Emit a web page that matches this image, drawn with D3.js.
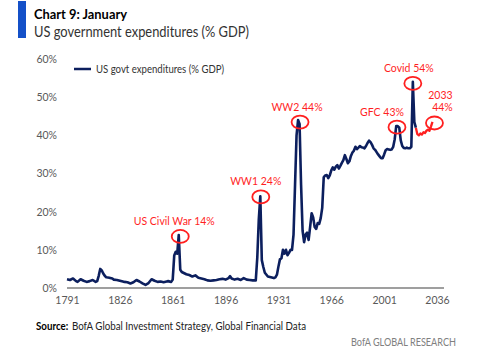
<!DOCTYPE html>
<html>
<head>
<meta charset="utf-8">
<script src="https://cdn.jsdelivr.net/npm/d3@7/dist/d3.min.js"></script>
<style>
  html, body { margin: 0; padding: 0; background: #fff; }
  svg { display: block; font-family: Lato, "Open Sans", sans-serif; }
</style>
</head>
<body>
<svg id="chart" width="500" height="356"></svg>
<script>
// ---------------- DATA ----------------
const years = [1791,1793,1795,1797,1798,1800,1802,1804,1806,1808,1810,1811,1812,1813,1814,1815,1816,1817,1819,1821,1822,1824,1826,1828,1829,1831,1833,1835,1837,1839,1841,1843,1845,1847,1849,1851,1853,1855,1857,1858,1860,
  1861,1862,1863,1864,1865,1866,1867,1868,1870,1872,1874,1876,1878,1880,1882,1884,1886,1888,1890,1892,1894,1896,1898,1899,1900,1902,1904,1906,1908,1910,1912,1914,1916,
  1917,1918,1919,1920,1921,1922,1924,1926,1928,1929,1930,1931,1932,1933,1934,1935,1936,1937,1938,1939,1940,1941,1942,1943,1944,1945,1946,1947,1948,1949,1950,
  1951,1952,1953,1954,1955,1956,1957,1958,1959,1960,1961,1962,1963,1964,1965,1966,1967,1968,1969,1970,1971,1972,1973,1974,1975,1976,1977,1978,1979,1980,
  1981,1982,1983,1984,1985,1986,1987,1988,1989,1990,1991,1992,1993,1994,1995,1996,1997,1998,1999,2000,2001,2002,2003,2004,2005,2006,2007,2008,2009,2010,
  2011,2012,2013,2014,2015,2016,2017,2018,2019,2020,2021,2022];
const spending = [2.3,2.1,2.5,1.8,1.6,2.3,1.9,1.6,1.8,2.1,1.6,1.8,3.2,5.0,4.6,3.8,3.2,2.8,2.7,2.5,2.2,2.1,1.9,1.7,1.6,1.5,1.2,1.5,2.1,1.7,1.2,0.8,1.3,2.3,1.9,1.6,1.7,1.5,1.7,1.8,1.6,
  2.2,8.5,9.5,9.0,13.9,4.8,4.2,4.0,3.6,3.4,3.0,3.3,2.7,2.5,2.3,2.0,1.9,2.0,2.1,2.3,2.4,2.2,2.6,3.1,2.5,2.2,2.4,2.1,2.6,2.2,2.1,2.0,2.0,
  8.0,18.0,24.0,7.3,5.5,4.0,3.0,2.8,2.6,2.8,3.5,5.6,7.5,7.8,10.0,9.0,10.0,8.6,9.2,10.0,10.0,14.0,27.0,40.0,44.0,43.0,27.0,15.0,12.0,14.0,14.5,
  12.6,16.0,19.6,18.5,16.0,15.5,17.0,16.8,18.3,21.0,29.0,29.5,29.6,28.8,29.5,30.8,31.6,31.0,31.8,32.2,31.3,32.0,32.8,33.5,34.8,33.8,32.7,33.2,34.6,35.5,
  36.0,37.0,36.4,36.8,37.2,36.9,36.8,36.6,37.2,38.0,38.6,38.2,37.5,36.6,36.2,35.6,35.0,34.5,34.0,34.0,35.0,36.1,36.4,36.3,36.2,36.3,37.0,39.0,42.4,42.4,
  42.0,38.7,37.2,36.7,36.6,36.8,36.6,36.6,37.0,54.0,43.5,42.0];

const projYears = [2022,2023,2024,2025,2026,2027,2028,2029,2030,2031,2032,2033];
const projValues = [42.0,40.3,40.0,40.5,40.2,40.8,40.6,41.2,41.5,41.2,42.3,43.5];

const xTicks = [1791,1826,1861,1896,1931,1966,2001,2036];
const yTicks = [0,10,20,30,40,50,60];

const annoLabels = [["US Civil War 14%"],["WW1 24%"],["WW2 44%"],["GFC 43%"],["Covid 54%"],["2033","44%"]];
const annoYears  = [1865,1919,1944,2009.5,2020,2033];
const annoValues = [13.9,24,44,42.4,54,43.5];

const seriesName = "US govt expenditures (% GDP)";
const title = "Chart 9: January";
const subtitle = "US government expenditures (% GDP)";
const sourceLabel = "Source:";
const sourceText = "BofA Global Investment Strategy, Global Financial Data";
const brand = "BofA GLOBAL RESEARCH";

// ---------------- DRAW ----------------
const svg = d3.select("#chart");
const navy = "#0c1f5e", red = "#ff1f1f", grey = "#595959";

const x = d3.scaleLinear().domain([1791, 2036]).range([67, 437]);
const y = d3.scaleLinear().domain([0, 60]).range([288, 59]);

// header
svg.append("rect").attr("x", 18).attr("y", 1).attr("width", 8).attr("height", 37).attr("fill", "#1450c8");
svg.append("text").attr("x", 34).attr("y", 18.5).attr("font-size", 14).attr("font-weight", "bold").attr("fill", "#000")
  .attr("textLength", 93).attr("lengthAdjust", "spacingAndGlyphs").text(title);
svg.append("text").attr("x", 34).attr("y", 36.5).attr("font-size", 15).attr("fill", "#333")
  .attr("textLength", 215).attr("lengthAdjust", "spacingAndGlyphs").text(subtitle);

// y axis (labels only)
const yAxis = d3.axisLeft(y).tickValues(yTicks).tickFormat(d => d + "%").tickSize(0).tickPadding(0);
const gy = svg.append("g").attr("transform", "translate(57,0)").call(yAxis);
gy.select(".domain").remove();
gy.selectAll("text").attr("font-size", 10.5).attr("fill", grey).attr("font-family", "Lato, sans-serif");

// x axis
const xAxis = d3.axisBottom(x).tickValues(xTicks).tickFormat(d3.format("d")).tickSize(0).tickPadding(9);
const gx = svg.append("g").attr("transform", "translate(0,288)").call(xAxis);
gx.select(".domain").attr("d", `M${x.range()[0]},0H${x.range()[1] + 7}`).attr("stroke", "#7f7f7f").attr("stroke-width", 1.3);
gx.selectAll("text").attr("font-size", 10.5).attr("fill", grey).attr("font-family", "Lato, sans-serif");

// lines
const line = d3.line().x(d => x(d[0])).y(d => y(d[1])).curve(d3.curveLinear);
svg.append("path").datum(d3.zip(projYears, projValues)).attr("d", line)
  .attr("fill", "none").attr("stroke", red).attr("stroke-width", 2.3).attr("stroke-linejoin", "round");
svg.append("path").datum(d3.zip(years, spending)).attr("d", line)
  .attr("fill", "none").attr("stroke", navy).attr("stroke-width", 2.6).attr("stroke-linejoin", "round");

// legend
svg.append("line").attr("x1", 74).attr("x2", 91).attr("y1", 69).attr("y2", 69).attr("stroke", navy).attr("stroke-width", 2.5);
svg.append("text").attr("x", 96).attr("y", 72.5).attr("font-size", 10.5).attr("fill", "#333")
  .attr("textLength", 128).attr("lengthAdjust", "spacingAndGlyphs").text(seriesName);

// annotations
const annoDx = [-6, -5, -3, -15, -4, 6];
const annoEll = [[1.5, 1.5], [0.5, 0.5], [2, 2], [0, 1], [0, 1.5], [2, 1]];
annoLabels.forEach((lab, i) => {
  const cx = x(annoYears[i]) + annoEll[i][0], cy = y(annoValues[i]) + annoEll[i][1];
  svg.append("ellipse").attr("cx", cx).attr("cy", cy).attr("rx", 8.5).attr("ry", 6.5)
    .attr("fill", "none").attr("stroke", red).attr("stroke-width", 1.8);
  const t = svg.append("text").attr("text-anchor", "middle").attr("font-size", 10.5).attr("fill", red);
  const base = cy - 6.5 - 5 - (lab.length - 1) * 12.5;
  lab.forEach((s, k) => {
    t.append("tspan").attr("x", cx + annoDx[i] + (k === 1 ? 2 : 0)).attr("y", base + k * 12.5).text(s);
  });
});

// footer
const src = svg.append("text").attr("x", 36).attr("y", 330).attr("font-size", 10.5).attr("fill", "#222")
  .attr("textLength", 270).attr("lengthAdjust", "spacingAndGlyphs");
src.append("tspan").attr("font-weight", "bold").attr("fill", "#000").text(sourceLabel);
src.append("tspan").attr("dx", 4).text(sourceText);
svg.append("text").attr("x", 456).attr("y", 345.5).attr("text-anchor", "end").attr("font-size", 10.5).attr("fill", "#808080")
  .attr("textLength", 105).attr("lengthAdjust", "spacingAndGlyphs").text(brand);
</script>
</body>
</html>
